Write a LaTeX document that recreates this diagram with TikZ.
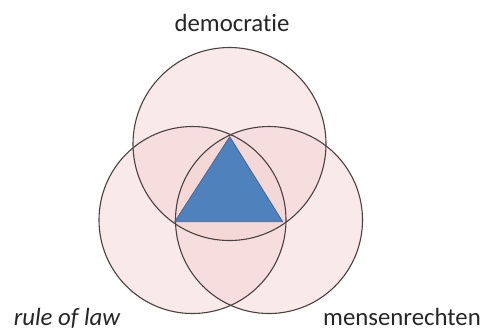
\documentclass[tikz,border=0pt]{standalone}
\usepackage{fontspec}
\setmainfont{Carlito}[Ligatures=NoCommon]
\definecolor{vennPink}{RGB}{243,211,211}
\definecolor{vennEdge}{HTML}{4A4040}
\definecolor{triBlue}{HTML}{4F81BD}
\definecolor{triEdge}{HTML}{41699A}

\begin{document}
\begin{tikzpicture}[
    x=0.5pt, y=-0.5pt,
    venn/.style={fill=vennPink, fill opacity=0.5},
    ring/.style={draw=vennEdge, line width=0.55pt},
    lbl/.style={font=\fontsize{12.4}{15}\selectfont, text=black!85, anchor=base, inner sep=0pt},
]
\useasboundingbox (0,0) rectangle (485,329);

% circle centres (pixel units)
\coordinate (cTop)   at (229.5,144);
\coordinate (cLeft)  at (192.5,220);
\coordinate (cRight) at (269,220);
\def\rTop{96.5}
\def\rSide{93.5}

% translucent fills, overlaps darken
\fill[venn] (cTop)   circle [radius=\rTop];
\fill[venn] (cLeft)  circle [radius=\rSide];
\fill[venn] (cRight) circle [radius=\rSide];

% outlines on top
\draw[ring] (cTop)   circle [radius=\rTop];
\draw[ring] (cLeft)  circle [radius=\rSide];
\draw[ring] (cRight) circle [radius=\rSide];

% centre triangle
\filldraw[fill=triBlue, draw=triEdge, line width=0.4pt]
    (229.7,136.7) -- (174.7,221.7) -- (282.7,221.7) -- cycle;

% labels
\node[lbl] (demo) at (232,31.5) {democratie};
\node[lbl] (law)  at (67,325) {\itshape rule of law};
\node[lbl] (mens) at (402,325) {mensenrechten};

\end{tikzpicture}
\end{document}
